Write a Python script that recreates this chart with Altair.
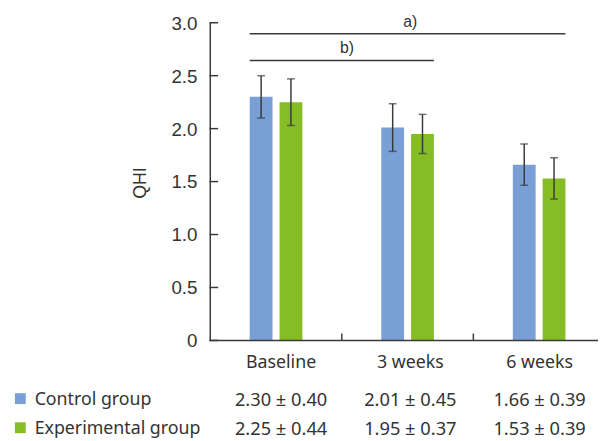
import altair as alt
import pandas as pd

categories = ["Baseline", "3 weeks", "6 weeks"]
groups = ["Control group", "Experimental group"]
control_mean = [2.30, 2.01, 1.66]
control_sd = [0.40, 0.45, 0.39]
control_err = [0.20, 0.225, 0.195]
exp_mean = [2.25, 1.95, 1.53]
exp_sd = [0.44, 0.37, 0.39]
exp_err = [0.22, 0.185, 0.195]
y_ticks = [0, 0.5, 1.0, 1.5, 2.0, 2.5, 3.0]
y_tick_labels = ["0", "0.5", "1.0", "1.5", "2.0", "2.5", "3.0"]
x_ticks = ["3 weeks", "6 weeks"]
colors = ["#78A0D6", "#86BC24"]

ann_labels = ["a)", "b)"]
ann_start = ["Baseline", "Baseline"]
ann_end = ["6 weeks", "3 weeks"]
ann_line_y = [2.895, 2.643]
ann_text_y = [3.005, 2.758]
ann_text_cat = ["3 weeks", "Baseline"]
ann_text_dx = [0, 66.7]

TXT = "#333333"
LINE = "#3a3a3a"
W, H = 393, 322

rows = []
for g, means, sds, errs in [(groups[0], control_mean, control_sd, control_err),
                            (groups[1], exp_mean, exp_sd, exp_err)]:
    for c, m, s, e in zip(categories, means, sds, errs):
        rows.append({"cat": c, "group": g, "mean": m, "err": e,
                     "label": f"{m:.2f} \u00b1 {s:.2f}"})
df = pd.DataFrame(rows)

# band step of ~133 px; the last category runs past the picture's right edge
xscale = alt.Scale(domain=categories, paddingInner=0.6, paddingOuter=0.27375, align=0.548)
xstep = alt.Scale(domain=categories, paddingInner=0.0525, paddingOuter=0, align=0)
yscale = alt.Scale(domain=[0, 3], nice=False, zero=True)
oscale = alt.Scale(domain=groups, paddingInner=0.235, paddingOuter=0)
cscale = alt.Scale(domain=groups, range=colors)

def X(field, scale=xscale, **kw):
    return alt.X(field, scale=scale, axis=None, **kw)

def Y(field, **kw):
    return alt.Y(field, scale=yscale, axis=None, **kw)

base = alt.Chart(df)

bars = base.mark_bar().encode(
    x=X("cat:N"),
    xOffset=alt.XOffset("group:N", scale=oscale),
    y=Y("mean:Q"),
    color=alt.Color("group:N", scale=cscale, legend=None),
)

eb = base.transform_calculate(lo="datum.mean - datum.err", hi="datum.mean + datum.err")
err_rule = eb.mark_rule(color=LINE, strokeWidth=1.5).encode(
    x=X("cat:N"), xOffset=alt.XOffset("group:N", scale=oscale),
    y=Y("lo:Q"), y2="hi:Q")
cap_lo = eb.mark_tick(color=LINE, thickness=1.5, size=8, orient="horizontal").encode(
    x=X("cat:N"), xOffset=alt.XOffset("group:N", scale=oscale), y=Y("lo:Q"))
cap_hi = eb.mark_tick(color=LINE, thickness=1.5, size=8, orient="horizontal").encode(
    x=X("cat:N"), xOffset=alt.XOffset("group:N", scale=oscale), y=Y("hi:Q"))

# axes
ydf = pd.DataFrame({"v": y_ticks, "lab": y_tick_labels})
y_dom = alt.Chart(pd.DataFrame({"lo": [min(y_ticks)], "hi": [max(y_ticks)]})).mark_rule(
    color=LINE, strokeWidth=1.5).encode(x=alt.value(0), y=Y("lo:Q"), y2="hi:Q")
x_dom = alt.Chart(pd.DataFrame({"lo": [min(y_ticks)]})).mark_rule(
    color=LINE, strokeWidth=1.5).encode(y=Y("lo:Q"), x=alt.value(-0.75), x2=alt.value(W + 10))
yt = alt.Chart(ydf).mark_rule(color=LINE, strokeWidth=1.5).encode(
    y=Y("v:Q"), x=alt.value(-0.75), x2=alt.value(8))
ylab = alt.Chart(ydf).mark_text(font="Liberation Sans", fontSize=19, color=TXT,
                                align="right", baseline="middle", dy=1).encode(
    y=Y("v:Q"), x=alt.value(-13), text="lab:N")
ytitle = alt.Chart(pd.DataFrame({"t": ["QHI"]})).mark_text(
    font="Liberation Sans", fontSize=18, color=TXT, angle=270,
    align="center", baseline="middle").encode(
    x=alt.value(-70.5), y=alt.value(162.5), text="t:N")
xt = alt.Chart(pd.DataFrame({"c": x_ticks})).mark_rule(color=LINE, strokeWidth=1.5).encode(
    x=X("c:N", scale=xstep, bandPosition=0), y=alt.value(H - 7), y2=alt.value(H))
xlab = alt.Chart(pd.DataFrame({"c": categories})).mark_text(
    font="Noto Sans", fontSize=18, color=TXT, align="center", baseline="middle").encode(
    x=X("c:N"), y=alt.value(H + 23), text="c:N")

# annotation lines
ann = pd.DataFrame({"label": ann_labels, "start": ann_start, "end": ann_end,
                    "ly": ann_line_y, "ty": ann_text_y, "tc": ann_text_cat})
ann_lines = alt.Chart(ann).mark_rule(color=LINE, strokeWidth=1.5).encode(
    x=X("start:N", bandPosition=0),
    x2=alt.X2("end:N", bandPosition=1),
    y=Y("ly:Q"),
)
ann_texts = []
for i in range(len(ann_labels)):
    ann_texts.append(
        alt.Chart(ann.iloc[[i]]).mark_text(font="Liberation Sans", fontSize=16, color=TXT,
                                           baseline="middle", align="center",
                                           dx=ann_text_dx[i]).encode(
            x=X("tc:N"),
            y=Y("ty:Q"),
            text="label:N",
        )
    )

# bottom table
row_y = [382, 411.5]
table_layers = []
for g, ry in zip(groups, row_y):
    sub = base.transform_filter(alt.datum.group == g)
    table_layers.append(sub.mark_text(font="Noto Sans", fontSize=18.5, color=TXT,
                                      baseline="middle", align="center").encode(
        x=X("cat:N"), y=alt.value(ry), text="label:N"))
    leg = alt.Chart(pd.DataFrame({"group": [g]}))
    table_layers.append(leg.mark_square(size=121, opacity=1).encode(
        x=alt.value(-192.5), y=alt.value(ry - 1),
        color=alt.Color("group:N", scale=cscale, legend=None)))
    table_layers.append(leg.mark_text(font="Noto Sans", fontSize=18, color=TXT,
                                      baseline="middle", align="left").encode(
        x=alt.value(-178), y=alt.value(ry), text="group:N"))

chart = alt.layer(bars, err_rule, cap_lo, cap_hi, y_dom, x_dom, yt, ylab, ytitle, xt, xlab,
                  ann_lines, *ann_texts, *table_layers).resolve_scale(x="independent").properties(
    width=W, height=H,
    autosize=alt.AutoSizeParams(type="none"),
    padding={"left": 205, "top": 12, "right": 0, "bottom": 99},
).configure_view(stroke=None)

chart.save("out.html", embed_options={"renderer": "svg", "actions": False})
